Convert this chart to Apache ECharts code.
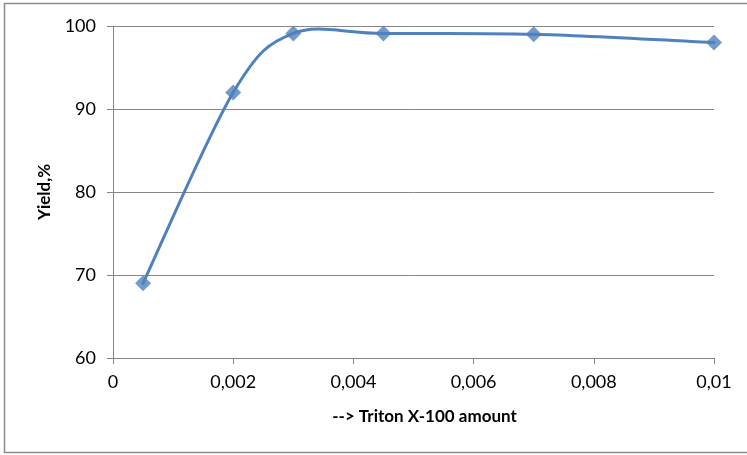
<!DOCTYPE html>
<html>
<head>
<meta charset="utf-8">
<script src="https://cdn.jsdelivr.net/npm/echarts@6/dist/echarts.min.js"></script>
<style>
  html, body { margin: 0; padding: 0; background: #fff; }
  #chart { width: 747px; height: 455px; }
</style>
</head>
<body>
<div id="chart"></div>
<script>
// Triton X-100 amount vs. yield
const amounts = [0.0005, 0.002, 0.003, 0.0045, 0.007, 0.01];
const yields = [69, 92, 99.1, 99.1, 99, 98];
const xTicks = { min: 0, max: 0.01, interval: 0.002 };
const yTicks = { min: 60, max: 100, interval: 10 };

const chart = echarts.init(document.getElementById('chart'), null, { renderer: 'canvas' });
const font = 'Lato, "Open Sans", sans-serif';
const axisGray = '#868686';
const blue = '#4f81bd';
const points = amounts.map((a, i) => [a, yields[i]]);

// Smoothed curve: cubic Bezier segments with Catmull-Rom style control
// points (tension 1/6), computed in pixel space from the axis scales.
function renderSegment(params, api) {
  const i = params.dataIndex;
  const n = points.length;
  if (i >= n - 1) return null;
  const P = k => api.coord(points[Math.max(0, Math.min(n - 1, k))]);
  const p0 = P(i - 1), p1 = P(i), p2 = P(i + 1), p3 = P(i + 2);
  return {
    type: 'bezierCurve',
    shape: {
      x1: p1[0], y1: p1[1],
      cpx1: p1[0] + (p2[0] - p0[0]) / 6, cpy1: p1[1] + (p2[1] - p0[1]) / 6,
      cpx2: p2[0] - (p3[0] - p1[0]) / 6, cpy2: p2[1] - (p3[1] - p1[1]) / 6,
      x2: p2[0], y2: p2[1]
    },
    style: { stroke: blue, lineWidth: 3, fill: 'none', lineCap: 'round' },
    silent: true
  };
}

chart.setOption({
  animation: false,
  backgroundColor: '#ffffff',
  graphic: [{
    type: 'rect',
    shape: { x: 4.5, y: 3.5, width: 780, height: 449 },
    style: { fill: 'none', stroke: '#8c8c8c', lineWidth: 1.5 },
    silent: true
  }],
  grid: { left: 113, top: 26, width: 601, height: 332, containLabel: false },
  xAxis: {
    type: 'value',
    min: xTicks.min, max: xTicks.max, interval: xTicks.interval,
    name: '--> Triton X-100 amount',
    nameLocation: 'middle',
    nameGap: 50,
    nameTextStyle: { fontFamily: font, fontSize: 17, fontWeight: 'bold', color: '#000', padding: [0, 0, 0, 22] },
    axisLine: { show: true, onZero: false, lineStyle: { color: axisGray, width: 1 } },
    axisTick: { show: true, length: 6, inside: false, lineStyle: { color: axisGray } },
    splitLine: { show: false },
    axisLabel: {
      margin: 15,
      fontFamily: font, fontSize: 18, color: '#000',
      formatter: v => v === 0 ? '0' : String(+v.toFixed(4)).replace('.', ',')
    }
  },
  yAxis: {
    type: 'value',
    min: yTicks.min, max: yTicks.max, interval: yTicks.interval,
    name: 'Yield,%',
    nameLocation: 'middle',
    nameGap: 60,
    nameRotate: 90,
    nameTextStyle: { fontFamily: font, fontSize: 17, fontWeight: 'bold', color: '#000' },
    axisLine: { show: true, lineStyle: { color: axisGray, width: 1 } },
    axisTick: { show: true, length: 6, inside: false, lineStyle: { color: axisGray } },
    splitLine: { show: true, lineStyle: { color: axisGray, width: 1 } },
    axisLabel: { margin: 17, fontFamily: font, fontSize: 18, color: '#000' }
  },
  series: [{
    type: 'custom',
    data: points,
    encode: { x: 0, y: 1 },
    renderItem: renderSegment,
    clip: false,
    z: 2
  }, {
    type: 'scatter',
    data: points,
    symbol: 'diamond',
    symbolSize: 16,
    itemStyle: { color: blue },
    z: 3
  }]
});
</script>
</body>
</html>
